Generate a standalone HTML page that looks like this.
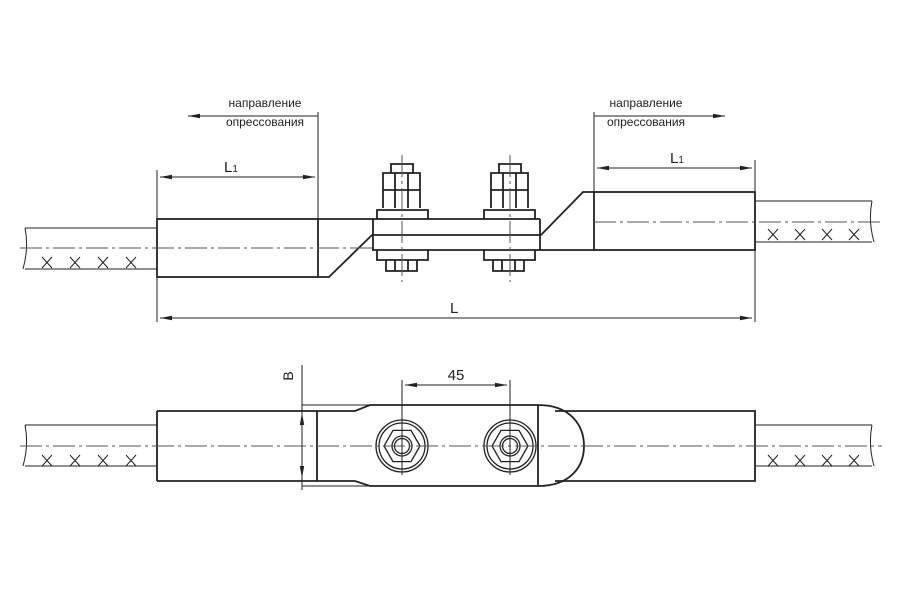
<!DOCTYPE html>
<html><head><meta charset="utf-8"><style>body{margin:0;background:#fff}svg{display:block}text{font-family:"Liberation Sans",sans-serif;fill:#222}</style></head><body>
<svg width="900" height="600" viewBox="0 0 900 600" xmlns="http://www.w3.org/2000/svg">
<defs><marker id="a" markerWidth="12" markerHeight="6" refX="12" refY="3" orient="auto-start-reverse" markerUnits="userSpaceOnUse"><path d="M0,0.8 L12,3 L0,5.2z" fill="#222"/></marker></defs>
<g fill="none" stroke="#222">
<!-- TOP VIEW -->
<g stroke-width="1">
<path d="M25,228H157M25,269H157M25,228q4,20 -2,41"/>
<path d="M755,201H872M755,242H872M872,201q-4,20 2,41"/>
<path d="M42,257l10,11M52,257l-10,11M70,257l10,11M80,257l-10,11M98,257l10,11M108,257l-10,11M126,257l10,11M136,257l-10,11"/>
<path d="M768,229l10,11M778,229l-10,11M795,229l10,11M805,229l-10,11M822,229l10,11M832,229l-10,11M849,229l10,11M859,229l-10,11"/>
</g>
<g stroke-width="1.8">
<rect x="157" y="219" width="161" height="58"/>
<rect x="594" y="192" width="161" height="58"/>
<path d="M318,219H373M318,277H329L372,235H541L583,192H594M372,250H594M373,219V250M540,219V250M373,219H540"/>
<!-- left bolt -->
<path d="M377,219V210h51v9M383,208v-35h37v35M391,173v-9h22v9M383,190h37M395,173v35M408,173v35"/>
<path d="M377,250v10h51v-10M386,260v11h31v-11M395,260v11M408,260v11"/>
<!-- right bolt -->
<path d="M484,219V210h51v9M491,208v-35h37v35M499,173v-9h22v9M491,190h37M503,173v35M516,173v35"/>
<path d="M484,250v10h51v-10M493,260v11h31v-11M502,260v11M515,260v11"/>
</g>
<g stroke-width="1" stroke="#555" stroke-dasharray="22,4,3,4">
<path d="M20,248H372M594,222H882M402,155V282M510,155V282"/>
</g>
<g stroke-width="1">
<path d="M157,170V322M318,112V219M594,112V192M755,160V322"/>
<path d="M160,177H315" marker-start="url(#a)" marker-end="url(#a)"/>
<path d="M597,168H752" marker-start="url(#a)" marker-end="url(#a)"/>
<path d="M160,318H752" marker-start="url(#a)" marker-end="url(#a)"/>
<path d="M318,116H188" marker-end="url(#a)"/>
<path d="M594,116H725" marker-end="url(#a)"/>
</g>
<!-- BOTTOM VIEW -->
<g stroke-width="1">
<path d="M25,425H157M25,466H157M25,425q4,20 -2,41"/>
<path d="M755,425H872M755,466H872M872,425q-4,20 2,41"/>
<path d="M42,455l10,11M52,455l-10,11M70,455l10,11M80,455l-10,11M98,455l10,11M108,455l-10,11M126,455l10,11M136,455l-10,11"/>
<path d="M768,455l10,11M778,455l-10,11M795,455l10,11M805,455l-10,11M822,455l10,11M832,455l-10,11M849,455l10,11M859,455l-10,11"/>
</g>
<g stroke-width="1.8">
<path d="M157,411H355L370,405H538M157,481H355L370,486H538M157,411V481M317,411V481M538,405V486M555,411H755V481H555"/>
<path d="M538,405C570,405 584,425 584,446C584,467 570,486 538,486"/>
</g>
<g stroke-width="1.3">
<circle cx="402" cy="446" r="26"/><circle cx="402" cy="446" r="23"/>
<polygon points="420,446 411,430.4 393,430.4 384,446 393,461.6 411,461.6"/>
<circle cx="402" cy="446" r="10"/><circle cx="402" cy="446" r="7.5"/>
<circle cx="510" cy="446" r="26"/><circle cx="510" cy="446" r="23"/>
<polygon points="528,446 519,430.4 501,430.4 492,446 501,461.6 519,461.6"/>
<circle cx="510" cy="446" r="10"/><circle cx="510" cy="446" r="7.5"/>
</g>
<g stroke-width="1" stroke="#555" stroke-dasharray="22,4,3,4">
<path d="M20,446H882"/>
</g>
<g stroke-width="1">
<path d="M402,380V475M510,380V475"/>
<path d="M405,385H507" marker-start="url(#a)" marker-end="url(#a)"/>
<path d="M302,365V490M302,405H372M302,486H372"/>
<path d="M302,413V478" marker-start="url(#a)" marker-end="url(#a)"/>
</g>
</g>
<text x="265" y="107" font-size="12" text-anchor="middle">направление</text>
<text x="265" y="126" font-size="12" text-anchor="middle">опрессования</text>
<text x="646" y="107" font-size="12" text-anchor="middle">направление</text>
<text x="646" y="126" font-size="12" text-anchor="middle">опрессования</text>
<text x="224" y="172" font-size="15">L<tspan font-size="10">1</tspan></text>
<text x="670" y="163" font-size="15">L<tspan font-size="10">1</tspan></text>
<text x="450" y="313" font-size="15">L</text>
<text x="456" y="380" font-size="15" text-anchor="middle">45</text>
<text x="0" y="0" font-size="14" text-anchor="middle" transform="translate(293,376) rotate(-90)">B</text>
</svg>
</body></html>
